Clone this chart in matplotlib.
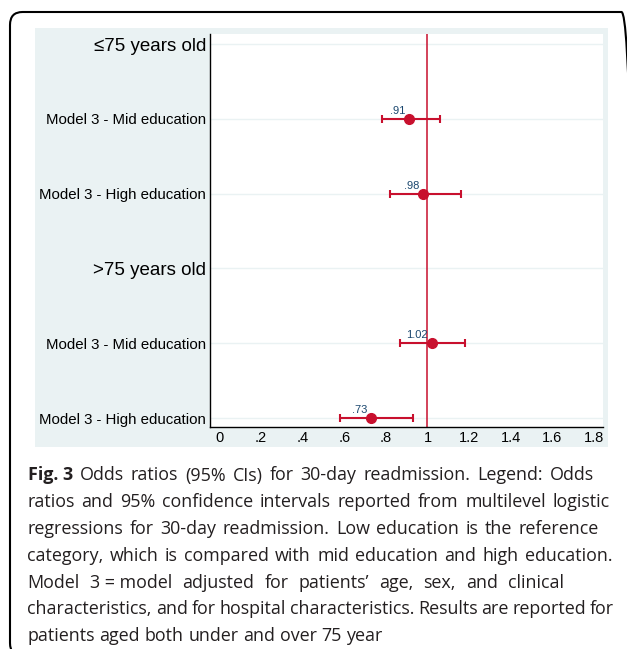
import matplotlib
matplotlib.use('Agg')
import matplotlib.pyplot as plt
from matplotlib.patches import FancyBboxPatch, Rectangle

# chart data
row_labels = ['≤75 years old', 'Model 3 - Mid education', 'Model 3 - High education',
              '>75 years old', 'Model 3 - Mid education', 'Model 3 - High education']
header_rows = [0, 3]
model_rows = [1, 2, 4, 5]
odds_ratio = [0.91, 0.98, 1.02, 0.73]
ci_low = [0.78, 0.82, 0.87, 0.58]
ci_high = [1.06, 1.16, 1.18, 0.93]
x_ticks = [0, 0.2, 0.4, 0.6, 0.8, 1.0, 1.2, 1.4, 1.6, 1.8]
x_tick_labels = ['0', '.2', '.4', '.6', '.8', '1', '1.2', '1.4', '1.6', '1.8']

caption_lines = [
    'Odds ratios (95% CIs) for 30-day readmission. Legend: Odds',
    'ratios and 95% confidence intervals reported from multilevel logistic',
    'regressions for 30-day readmission. Low education is the reference',
    'category, which is compared with mid education and high education.',
    'Model|3 = model|adjusted|for|patients’|age,|sex,|and|clinical',
    'characteristics, and for hospital characteristics. Results are reported for',
    'patients aged both under and over 75 year',
]
caption_prefix = 'Fig. 3'
# right edge (px) of each justified caption line; None = ragged
caption_right = [594, 610, 599, 612, 564, 614, None]

RED = '#c8102e'
NAVY = '#1a476f'
STATA_BG = '#eaf2f3'
CHART_FONT = ['Liberation Sans', 'DejaVu Sans']
CAPTION_FONT = ['Open Sans', 'DejaVu Sans']

W, H = 627, 649
fig = plt.figure(figsize=(W / 100, H / 100), dpi=100, facecolor='white')


def fx(px):
    return px / W


def fy(py):
    return 1 - py / H


# outer rounded frame (runs off the right and bottom of the image)
frame = FancyBboxPatch((fx(10), fy(656)), fx(634 - 10), (656 - 12) / H,
                       boxstyle='round,pad=0,rounding_size=0.02',
                       transform=fig.transFigure, facecolor='none',
                       edgecolor='black', linewidth=1.5, zorder=-2)
fig.add_artist(frame)

# Stata graph region background
fig.add_artist(Rectangle((fx(35), fy(447)), fx(608 - 35), (447 - 28) / H,
                         transform=fig.transFigure, facecolor=STATA_BG,
                         edgecolor='none', zorder=-1))

ax = fig.add_axes([fx(209.5), fy(427), fx(603 - 209.5), (427 - 34) / H])
ax.set_facecolor('white')

ax.axvline(1, color=RED, linewidth=1.1, zorder=2)

lower = [o - l for o, l in zip(odds_ratio, ci_low)]
upper = [h - o for o, h in zip(odds_ratio, ci_high)]
ax.errorbar(odds_ratio, model_rows, xerr=[lower, upper], fmt='o', color=RED,
            markersize=7, elinewidth=1.5, capsize=3, capthick=1.5, zorder=3)

for o, r in zip(odds_ratio, model_rows):
    ax.annotate(f'{o:.2f}'.lstrip('0'), (o, r), xytext=(-2.5, 3.6),
                textcoords='offset points', ha='right', va='baseline',
                fontsize=8, color=NAVY, family=CHART_FONT, zorder=4)

ax.set_xlim(-0.047, 1.843)
ax.set_ylim(5.12, -0.134)
ax.set_xticks(x_ticks)
ax.set_xticklabels(x_tick_labels, family=CHART_FONT, fontsize=10.5)
ax.set_yticks(range(len(row_labels)))
ax.set_yticklabels(row_labels, family=CHART_FONT)
for i, lab in enumerate(ax.get_yticklabels()):
    lab.set_fontsize(13.5 if i in header_rows else 10.8)
ax.tick_params(axis='y', length=0, pad=2.5)
ax.tick_params(axis='x', length=0, pad=3)

ax.grid(axis='y', color=STATA_BG, linewidth=1, zorder=0)
ax.set_axisbelow(True)
for side in ['top', 'right']:
    ax.spines[side].set_visible(False)
for side in ['left', 'bottom']:
    ax.spines[side].set_color('black')
    ax.spines[side].set_linewidth(1)

# caption, laid out word by word so lines can be justified
renderer = fig.canvas.get_renderer()


def text_width(s, size, weight='normal'):
    t = fig.text(0, 0, s, fontsize=size, weight=weight, family=CAPTION_FONT)
    w = t.get_window_extent(renderer).width
    t.remove()
    return w


def split_words(line):
    return line.split('|') if '|' in line else line.split(' ')


CAP_LEFT = 27.5
BASE0 = 480.5
LINE_STEP = 26.8

# pick a font size so the lines roughly fit their measured widths
probe = 10.0
space_probe = text_width('a a', probe) - 2 * text_width('a', probe)
ratios = []
for i, line in enumerate(caption_lines):
    if caption_right[i] is None or i == 4:
        continue
    words = split_words(line)
    nat = sum(text_width(w, probe) for w in words) + space_probe * (len(words) - 1)
    if i == 0:
        nat += text_width(caption_prefix, probe, 'bold') + space_probe
    ratios.append(nat / (caption_right[i] - CAP_LEFT))
ratios.sort()
blend = 0.6 * ratios[-1] + 0.4 * ratios[len(ratios) // 2]
cap_size = min(probe / blend, 13.4)
space_w = text_width('a a', cap_size) - 2 * text_width('a', cap_size)

for i, line in enumerate(caption_lines):
    tokens = [(w, 'normal') for w in split_words(line)]
    if i == 0:
        tokens = [(caption_prefix, 'bold')] + tokens
    widths = [text_width(w, cap_size, wt) for w, wt in tokens]
    if caption_right[i] is None:
        gap = space_w
    else:
        gap = (caption_right[i] - CAP_LEFT - sum(widths)) / (len(tokens) - 1)
        gap = max(gap, 0.45 * space_w)
    x = CAP_LEFT
    y = BASE0 + i * LINE_STEP
    for (w, wt), wd in zip(tokens, widths):
        fig.text(fx(x), fy(y), w, fontsize=cap_size, weight=wt,
                 family=CAPTION_FONT, color='#231f20', va='baseline', ha='left')
        x += wd + gap

fig.savefig('out.png', dpi=100)
plt.close(fig)
